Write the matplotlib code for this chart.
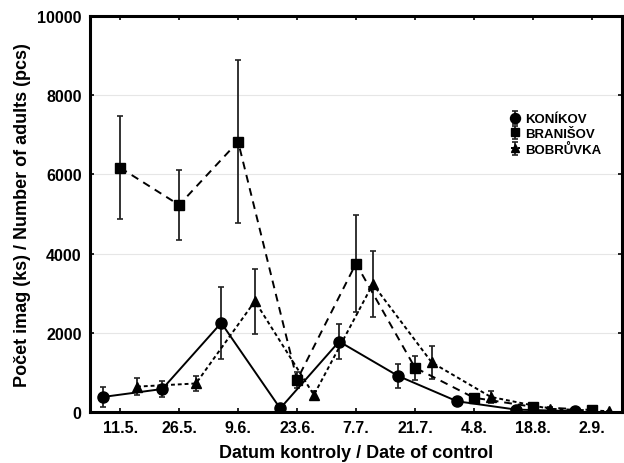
import matplotlib.pyplot as plt

plt.rcParams['font.family'] = ['Liberation Sans', 'DejaVu Sans']
plt.rcParams['font.weight'] = 'bold'

# tick labels (every 14 days starting 11.5.)
dates = ["11.5.", "26.5.", "9.6.", "23.6.", "7.7.", "21.7.", "4.8.", "18.8.", "2.9."]
tick_days = [0, 14, 28, 42, 56, 70, 84, 98, 112]

# sampling days (relative to 11.5.)
days_konikov = [-4, 10, 24, 38, 52, 66, 80, 94, 108]
days_branisov = [0, 14, 28, 42, 56, 70, 84, 98, 112]
days_bobruvka = [4, 18, 32, 46, 60, 74, 88, 102, 116]

konikov = [380, 580, 2250, 90, 1780, 910, 270, 60, 20]
konikov_err = [250, 200, 900, 60, 450, 300, 60, 30, 10]
branisov = [6170, 5230, 6830, 810, 3750, 1120, 360, 130, 50]
branisov_err = [1300, 880, 2050, 200, 1220, 300, 80, 40, 15]
bobruvka = [640, 720, 2800, 430, 3230, 1250, 380, 80, 20]
bobruvka_err = [220, 200, 820, 100, 840, 420, 150, 40, 10]

fig = plt.figure(figsize=(6.24, 4.64), dpi=100)
ax = fig.add_axes([0.144, 0.110, 0.853, 0.853])

ekw = dict(color="black", ecolor="#222222", elinewidth=1.3, capsize=2, capthick=1.2)
ax.errorbar(days_konikov, konikov, yerr=konikov_err, marker="o", ms=8,
            linestyle="-", linewidth=1.4, label="KONÍKOV", **ekw)
ax.errorbar(days_branisov, branisov, yerr=branisov_err, marker="s", ms=7,
            linestyle=(0, (4, 3)), linewidth=1.4, label="BRANIŠOV", **ekw)
ax.errorbar(days_bobruvka, bobruvka, yerr=bobruvka_err, marker="^", ms=7,
            linestyle=(0, (2, 1.5)), linewidth=1.4, label="BOBRŮVKA", **ekw)

ax.set_xlim(-7.2, 119.2)
ax.set_ylim(0, 10000)
ax.set_xticks(tick_days)
ax.set_xticklabels(dates)
ax.set_yticks([0, 2000, 4000, 6000, 8000, 10000])
ax.tick_params(axis="both", labelsize=11.5, direction="in", length=3, width=1.2,
               top=True, right=True, pad=6)
for lab in ax.get_xticklabels() + ax.get_yticklabels():
    lab.set_fontweight("bold")
ax.yaxis.grid(True, color="#e6e6e6", linewidth=0.8)
ax.set_axisbelow(True)
for s in ax.spines.values():
    s.set_linewidth(2.2)

ax.set_xlabel("Datum kontroly / Date of control", fontsize=13, fontweight="bold", labelpad=6)
ax.set_ylabel("Počet imag (ks) / Number of adults (pcs)", fontsize=13, fontweight="bold",
              labelpad=4)

ax.legend(loc="upper left", bbox_to_anchor=(0.778, 0.772), frameon=False,
          handlelength=0.7, handletextpad=0.4, labelspacing=0.2, borderpad=0,
          prop={"size": 9.5, "weight": "bold"}, markerscale=0.9)

fig.savefig("out.png", dpi=100)
